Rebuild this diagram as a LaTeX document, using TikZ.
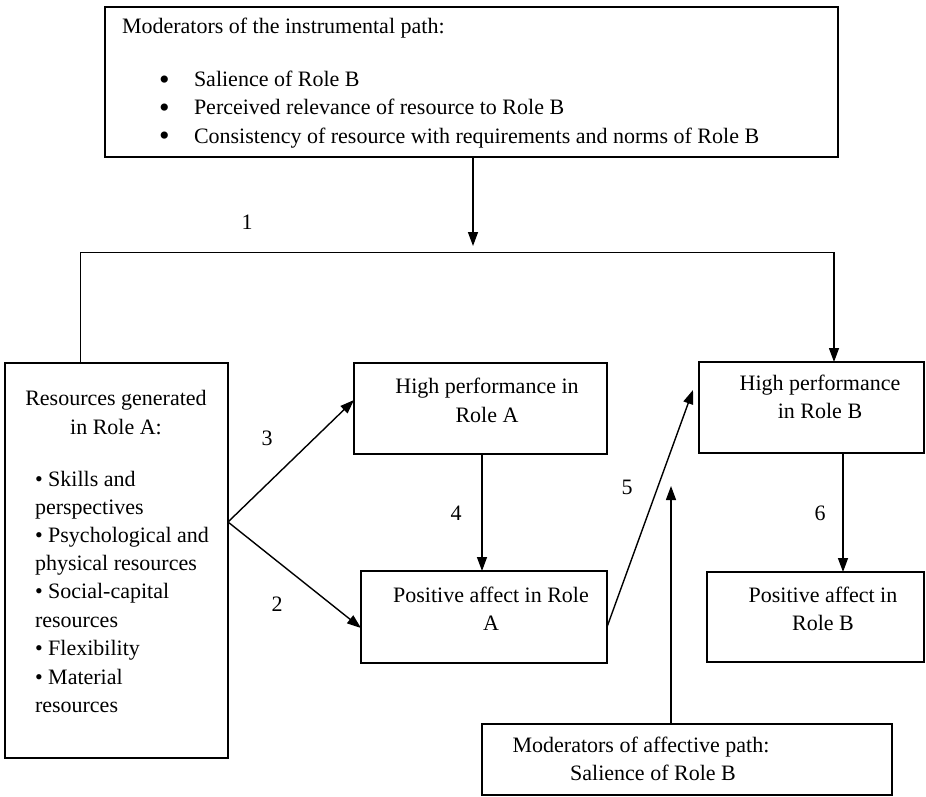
\documentclass[tikz,border=0pt]{standalone}
\usepackage{fontspec}
\setmainfont{Liberation Serif}
\usetikzlibrary{arrows.meta}
\begin{document}
\begin{tikzpicture}[x=1pt,y=-1pt,
  box/.style={draw, line width=1.5pt, inner sep=0pt, outer sep=0pt, anchor=north west},
  txt/.style={inner sep=0pt, outer sep=0pt, font=\fontsize{22}{28}\selectfont},
  lt/.style={txt, anchor=base west},
  ct/.style={txt, anchor=base},
  bigbullet/.style={inner sep=0pt, outer sep=0pt, anchor=base west, font=\fontsize{30}{30}\selectfont},
  conn/.style={line width=1.4pt, -{Triangle[length=14pt,width=10pt]}},
  thinline/.style={line width=0.9pt},
]
\useasboundingbox (0,0) rectangle (926,797);

% boxes
\node[box, minimum width=733pt, minimum height=150pt] (top) at (105,7) {};
\node[box, minimum width=223pt, minimum height=395pt] (res) at (5,363) {};
\node[box, minimum width=253pt, minimum height=91pt] (hpa) at (354,363) {};
\node[box, minimum width=246pt, minimum height=92pt] (paa) at (361,571) {};
\node[box, minimum width=225pt, minimum height=91pt] (hpb) at (699,362) {};
\node[box, minimum width=217pt, minimum height=90pt] (pab) at (707,572) {};
\node[box, minimum width=410pt, minimum height=71pt] (mod) at (482,724) {};

% top box text
\node[lt] (tt0) at (122,34) {Moderators of the instrumental path:};
\node[bigbullet] (tb1) at (159,90) {•};
\node[bigbullet] (tb2) at (159,118) {•};
\node[bigbullet] (tb3) at (159,146) {•};
\node[lt] (ti1) at (194,87) {Salience of Role B};
\node[lt] (ti2) at (194,115) {Perceived relevance of resource to Role B};
\node[lt] (ti3) at (194,143) {Consistency of resource with requirements and norms of Role B};

% resources box text
\node[ct] (r1) at (116,405) {Resources generated};
\node[ct] (r2) at (116,434) {in Role A:};
\node[lt] (r3) at (35,486) {• Skills and};
\node[lt] (r4) at (35,514) {perspectives};
\node[lt] (r5) at (35,542) {• Psychological and};
\node[lt] (r6) at (35,570) {physical resources};
\node[lt] (r7) at (35,598) {• Social-capital};
\node[lt] (r8) at (35,627) {resources};
\node[lt] (r9) at (35,655) {• Flexibility};
\node[lt] (r10) at (35,684) {• Material};
\node[lt] (r11) at (35,712) {resources};

% other box texts
\node[ct] (ha1) at (487,393) {High performance in};
\node[ct] (ha2) at (487,422) {Role A};
\node[ct] (pa1) at (491,602) {Positive affect in Role};
\node[ct] (pa2) at (491,630) {A};
\node[ct] (hb1) at (820,390) {High performance};
\node[ct] (hb2) at (820,418) {in Role B};
\node[ct] (pb1) at (823,602) {Positive affect in};
\node[ct] (pb2) at (823,630) {Role B};
\node[ct] (m1) at (641,752) {Moderators of affective path:};
\node[ct] (m2) at (653,780) {Salience of Role B};

% path labels
\node[ct] (n1) at (247,229) {1};
\node[ct] (n2) at (277,611) {2};
\node[ct] (n3) at (267,445) {3};
\node[ct] (n4) at (456,520) {4};
\node[ct] (n5) at (627,494) {5};
\node[ct] (n6) at (820,520) {6};

% connectors
\coordinate (apex) at (228,522);
\coordinate (cornerL) at (80,252);
\coordinate (cornerR) at (834,252);
\coordinate (modtip) at (671,486);
\coordinate (fivetip) at (693,390);

\draw[conn] (top.south -| 473,0) -- (473,246);
\draw[thinline] (res.north -| cornerL) -- (cornerL) -- (cornerR);
\draw[conn] (cornerR) -- (hpb.north -| cornerR);
\draw[conn] (apex) -- (hpa.west |- 0,400);
\draw[conn] (apex) -- (paa.west |- 0,628);
\draw[conn] (hpa.south -| 482,0) -- (paa.north -| 482,0);
\draw[conn] (paa.east |- 0,627) -- (fivetip);
\draw[conn] (hpb.south -| 843,0) -- (pab.north -| 843,0);
\draw[conn] (mod.north -| modtip) -- (modtip);
\end{tikzpicture}
\end{document}
